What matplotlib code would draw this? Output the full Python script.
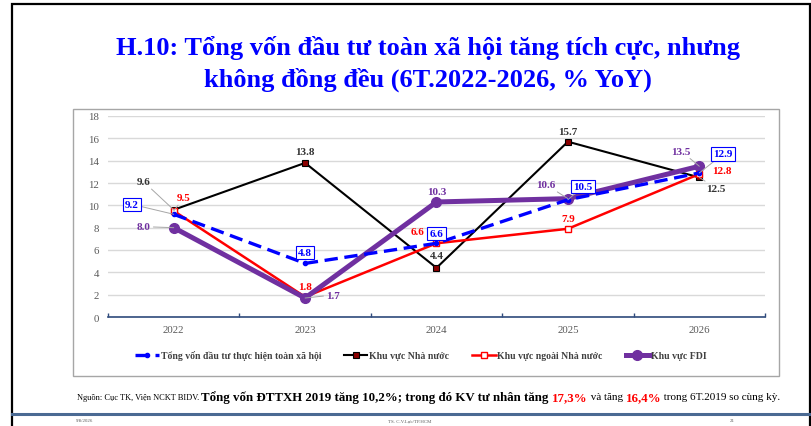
import matplotlib
matplotlib.use("Agg")
import matplotlib.pyplot as plt
from matplotlib.patches import Rectangle
from matplotlib.lines import Line2D

# ---------------- data ----------------
years = ["2022", "2023", "2024", "2025", "2026"]
total = [9.2, 4.8, 6.6, 10.5, 12.9]
state = [9.6, 13.8, 4.4, 15.7, 12.5]
nonstate = [9.5, 1.8, 6.6, 7.9, 12.8]
fdi = [8.0, 1.7, 10.3, 10.6, 13.5]
series_names = ["Tổng vốn đầu tư thực hiện toàn xã hội", "Khu vực Nhà nước",
                "Khu vực ngoài Nhà nước", "Khu vực FDI"]
yticks = [0, 2, 4, 6, 8, 10, 12, 14, 16, 18]
title_lines = ["H.10: Tổng vốn đầu tư toàn xã hội tăng tích cực, nhưng",
               "không đồng đều (6T.2022-2026, % YoY)"]

# ---------------- style ----------------
W, H = 812, 427
SERIF = ["Liberation Serif", "DejaVu Serif"]
plt.rcParams["font.family"] = SERIF

C_TOTAL = "#0000FF"
C_STATE = "#000000"
C_NON = "#FF0000"
C_FDI = "#7030A0"
C_LBL_STATE = "#333333"

# label offsets in pixels (dx, dy up), and whether a leader line is drawn
off_total = [(-42, 10, True), (0, 11, False), (0, 10, False), (15, 13, True), (24, 19, True)]
off_state = [(-30, 28, True), (0, 11, False), (0, 12, False), (0, 10, False), (17, -11, True)]
off_non = [(10, 13, True), (0, 10, False), (-19, 12, False), (0, 10, False), (23, 4, False)]
off_fdi = [(-30, 1, True), (28, 3, True), (0, 10, False), (-22, 14, True), (-18, 15, True)]

def fx(x):
    return x / W

def fy(y):
    return 1 - y / H

fig = plt.figure(figsize=(W / 100, H / 100), dpi=100)
fig.patch.set_facecolor("white")

# slide frame
fig.add_artist(Rectangle((fx(12), fy(430)), fx(810) - fx(12), fy(5) - fy(430),
                         transform=fig.transFigure, fill=False, edgecolor="black", lw=1.6))
# chart area frame
fig.add_artist(Rectangle((fx(73), fy(377)), fx(779) - fx(73), fy(110) - fy(377),
                         transform=fig.transFigure, fill=False, edgecolor="#A6A6A6", lw=1.0))
# footer line
fig.add_artist(Line2D([fx(12), fx(810)], [fy(415), fy(415)], transform=fig.transFigure,
                      color="#4B6A93", lw=2.2))

# title
fig.text(fx(428), fy(48), title_lines[0], ha="center", va="center", fontsize=19,
         fontweight="bold", color=C_TOTAL)
fig.text(fx(428), fy(80), title_lines[1], ha="center", va="center", fontsize=19,
         fontweight="bold", color=C_TOTAL)

ax = fig.add_axes([fx(108), fy(318), fx(765) - fx(108), fy(117) - fy(318)])
x = list(range(len(years)))

l_state, = ax.plot(x, state, color=C_STATE, lw=1.5, marker="s", ms=4.5,
                   mfc="#8B0000", mec="black", mew=0.8, zorder=3, label=series_names[1])
l_non, = ax.plot(x, nonstate, color=C_NON, lw=1.8, marker="s", ms=4.5,
                 mfc="white", mec=C_NON, mew=1.0, zorder=4, label=series_names[2])
l_fdi, = ax.plot(x, fdi, color=C_FDI, lw=3.6, marker="o", ms=7,
                 mfc=C_FDI, mec=C_FDI, zorder=5, label=series_names[3])
l_total, = ax.plot(x, total, color=C_TOTAL, lw=2.4, dashes=(4, 2), marker="o", ms=3,
                   mfc=C_TOTAL, mec=C_TOTAL, zorder=6, label=series_names[0])

ax.set_xlim(-0.5, len(years) - 0.5)
ax.set_ylim(0, 18)
ax.set_yticks(yticks)
ax.set_yticklabels([str(v) for v in yticks])
ax.set_xticks(x)
ax.set_xticklabels(years)
ax.set_xticks([i - 0.5 for i in range(len(years) + 1)], minor=True)
ax.tick_params(axis="y", length=0, pad=6.5, labelsize=7.8, labelcolor="#595959")
ax.tick_params(axis="x", which="major", length=0, pad=6, labelsize=7.8, labelcolor="#595959")
ax.tick_params(axis="x", which="minor", length=3, direction="in", color="#2F4B7C", width=1)
ax.grid(axis="y", color="#D9D9D9", lw=1)
ax.set_axisbelow(True)
for s in ["top", "right", "left"]:
    ax.spines[s].set_visible(False)
ax.spines["bottom"].set_color("#2F4B7C")
ax.spines["bottom"].set_linewidth(1.2)
ax.patch.set_alpha(0)

def label(vals, offs, color, boxed=False):
    for i, (v, (dx, dy, lead)) in enumerate(zip(vals, offs)):
        kw = dict(xy=(i, v), xytext=(dx, dy), textcoords="offset pixels",
                  ha="center", va="center", fontsize=8, fontweight="bold", color=color,
                  zorder=10, annotation_clip=False)
        if boxed:
            kw["bbox"] = dict(boxstyle="square,pad=0.2", fc="white", ec=C_TOTAL, lw=0.8)
        if lead:
            kw["arrowprops"] = dict(arrowstyle="-", color="#A6A6A6", lw=0.7,
                                    shrinkA=0, shrinkB=0)
        ax.annotate(f"{v:.1f}", **kw)

label(state, off_state, C_LBL_STATE)
label(nonstate, off_non, C_NON)
label(fdi, off_fdi, C_FDI)
label(total, off_total, C_TOTAL, boxed=True)

leg = fig.legend(handles=[l_total, l_state, l_non, l_fdi], loc="center",
                 bbox_to_anchor=(fx(421), fy(356)), ncol=4, frameon=False,
                 prop={"family": SERIF, "size": 7, "weight": "bold"},
                 handlelength=2.4, handletextpad=0.2, columnspacing=2.35, borderaxespad=0)
for t in leg.get_texts():
    t.set_color("#404040")

# footer note with mixed styles
renderer = fig.canvas.get_renderer()
pieces = [("Nguồn: Cục TK, Viện NCKT BIDV. ", "normal", "black", 6.0),
          ("Tổng vốn ĐTTXH 2019 tăng 10,2%; trong đó KV tư nhân tăng ", "bold", "black", 9.3),
          ("17,3%", "bold", "#FF0000", 9.3),
          (" và tăng ", "normal", "black", 8.0),
          ("16,4%", "bold", "#FF0000", 9.3),
          (" trong 6T.2019 so cùng kỳ.", "normal", "black", 8.0)]
cx = 77
for txt, wt, col, sz in pieces:
    t = fig.text(fx(cx), fy(398), txt, ha="left", va="center", fontsize=sz,
                 fontweight=wt, color=col)
    bb = t.get_window_extent(renderer=renderer)
    cx += bb.width

fig.text(fx(85), fy(421), "9/8/2026", fontsize=3.5, color="#595959", ha="center", va="center")
fig.text(fx(410), fy(421), "TS. C.V.Lực/TP.HCM", fontsize=3.5, color="#595959", ha="center", va="center")
fig.text(fx(732), fy(421), "21", fontsize=3.5, color="#595959", ha="center", va="center")

fig.savefig("out.png", dpi=100)
